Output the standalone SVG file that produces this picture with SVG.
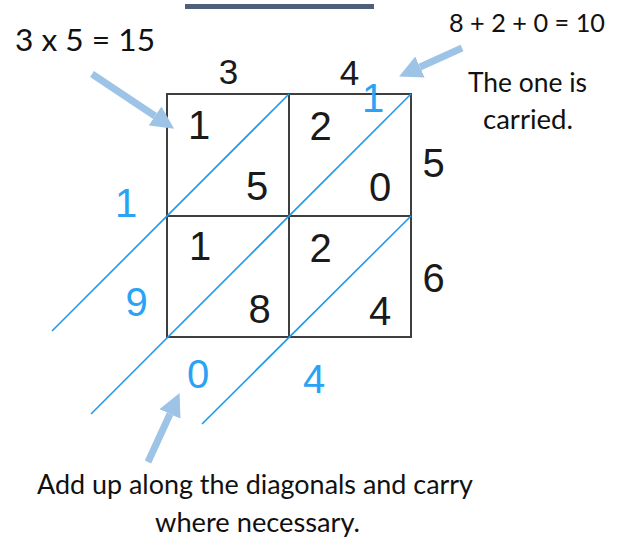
<svg xmlns="http://www.w3.org/2000/svg" width="622" height="541" viewBox="0 0 622 541">
  <style>
    .note { font-family: Lato, "Open Sans", sans-serif; fill: #111; }
    .dig { font-family: "Liberation Sans", Arial, sans-serif; font-size: 40px; fill: #1a1a1a; text-anchor: middle; }
    .top { font-size: 35px; }
    .bdig { font-family: "Liberation Sans", Arial, sans-serif; font-size: 40px; fill: #2aa3f5; text-anchor: middle; }
    .grid { fill: none; stroke: #3f3f3f; stroke-width: 2; }
    .diag { stroke: #1e9be8; stroke-width: 1.6; fill: none; }
    .arrow { stroke: #9dc3e6; stroke-width: 7; fill: none; }
  </style>
  <defs>
    <marker id="ah" markerUnits="userSpaceOnUse" markerWidth="23" markerHeight="23" viewBox="0 0 23 23" refX="0" refY="11.5" orient="auto">
      <path d="M0,0 L23,11.5 L0,23 z" fill="#9dc3e6"/>
    </marker>
  </defs>
  <rect width="622" height="541" fill="#ffffff"/>

  <rect id="bar" x="185" y="4" width="189" height="5" fill="#4e6079"/>

  <g id="grid">
    <rect class="grid" x="167" y="94" width="244" height="243"/>
    <line class="grid" x1="289" y1="94" x2="289" y2="337"/>
    <line class="grid" x1="167" y1="216" x2="411" y2="216"/>
  </g>

  <g id="connectors">
    <line class="diag" x1="52" y1="331" x2="289" y2="94"/>
    <line class="diag" x1="91" y1="414" x2="411" y2="94"/>
    <line class="diag" x1="202" y1="424" x2="411" y2="216"/>
    <line class="arrow" x1="92" y1="74" x2="155" y2="116" marker-end="url(#ah)"/>
    <line class="arrow" x1="462" y1="48" x2="420" y2="67" marker-end="url(#ah)"/>
    <line class="arrow" x1="148" y1="462" x2="170" y2="414" marker-end="url(#ah)"/>
  </g>

  <g id="top-labels">
    <text class="dig top" x="228.5" y="84">3</text>
    <text class="dig top" x="349.5" y="85">4</text>
  </g>
  <g id="right-labels">
    <text class="dig" x="433.5" y="177">5</text>
    <text class="dig" x="433.5" y="292">6</text>
  </g>
  <g id="cell-tl">
    <text class="dig" x="199" y="139">1</text>
    <text class="dig" x="257" y="200">5</text>
  </g>
  <g id="cell-tr">
    <text class="dig" x="320.5" y="140">2</text>
    <text class="dig" x="380" y="201">0</text>
  </g>
  <g id="cell-bl">
    <text class="dig" x="200" y="260">1</text>
    <text class="dig" x="259.5" y="323">8</text>
  </g>
  <g id="cell-br">
    <text class="dig" x="320.5" y="262">2</text>
    <text class="dig" x="380" y="325">4</text>
  </g>
  <g id="results">
    <text class="bdig" x="373" y="112">1</text>
    <text class="bdig" x="126" y="217">1</text>
    <text class="bdig" x="136.5" y="316">9</text>
    <text class="bdig" x="198" y="388">0</text>
    <text class="bdig" x="314" y="393">4</text>
  </g>

  <g id="note-left">
    <text class="note" x="15" y="51" font-size="30" textLength="140" lengthAdjust="spacingAndGlyphs">3 x 5 = 15</text>
  </g>
  <g id="note-right">
    <text class="note" x="449" y="32" font-size="25" textLength="156" lengthAdjust="spacingAndGlyphs">8 + 2 + 0 = 10</text>
    <text class="note" x="468" y="92" font-size="27" textLength="119" lengthAdjust="spacingAndGlyphs">The one is</text>
    <text class="note" x="483" y="129" font-size="27" textLength="90" lengthAdjust="spacingAndGlyphs">carried.</text>
  </g>
  <g id="note-bottom">
    <text class="note" x="37" y="494" font-size="26" textLength="436" lengthAdjust="spacingAndGlyphs">Add up along the diagonals and carry</text>
    <text class="note" x="155" y="532" font-size="26" textLength="205" lengthAdjust="spacingAndGlyphs">where necessary.</text>
  </g>
</svg>
